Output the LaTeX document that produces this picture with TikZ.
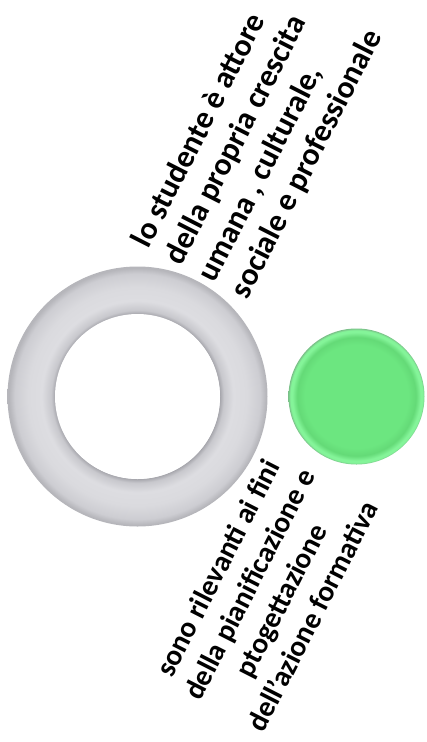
\documentclass[tikz,border=0pt]{standalone}
\usepackage{fontspec}
\setmainfont{Carlito}
\definecolor{rg1}{HTML}{A4A4AA}
\definecolor{rg2}{HTML}{C8C8CD}
\definecolor{rg3}{HTML}{DDDDE1}
\definecolor{rg4}{HTML}{DADADE}
\definecolor{rg5}{HTML}{CDCDD2}
\definecolor{rg6}{HTML}{B6B6BB}
\definecolor{gr1}{HTML}{6CE680}
\definecolor{gr2}{HTML}{64DA77}
\definecolor{gr3}{HTML}{84F499}
\definecolor{gr4}{HTML}{7AC088}
\pgfdeclareradialshading{torusshade}{\pgfpoint{0bp}{0bp}}{%
 color(0bp)=(white); color(15.7bp)=(white); color(15.8bp)=(rg1);
 color(16.6bp)=(rg2); color(18.4bp)=(rg3); color(21bp)=(rg4);
 color(23.6bp)=(rg5); color(24.7bp)=(rg6); color(25bp)=(rg6); color(50bp)=(rg6)}
\pgfdeclareradialshading{greenshade}{\pgfpoint{0bp}{0bp}}{%
 color(0bp)=(gr1); color(19bp)=(gr1); color(21.8bp)=(gr2);
 color(23.6bp)=(gr3); color(24.4bp)=(gr3); color(25bp)=(gr4); color(50bp)=(gr4)}
\tikzset{
  lbl/.style={font=\bfseries, rotate=63, inner sep=0pt},
}
\begin{document}
\begin{tikzpicture}[x=1pt,y=1pt]
\useasboundingbox (0,0) rectangle (427,-742);
\shade[shading=torusshade] (137.5,-396.5) circle (130);
\fill[white] (137.5,-396.5) circle (82.5);
\node[circle, minimum size=136pt, inner sep=0pt, shading=greenshade] (green) at (356.5,-396.5) {};
\node[lbl, align=left, font=\bfseries\fontsize{31.6}{37}\selectfont] (top) at (258,-139) {lo studente è attore\\della propria crescita\\umana , culturale,\\sociale e professionale};
\node[lbl, align=center, font=\bfseries\fontsize{29.2}{35.5}\selectfont] (bottom) at (265,-592) {sono rilevanti ai fini\\della pianificazione e\\ptogettazione\\dell'azione formativa};
\end{tikzpicture}
\end{document}
